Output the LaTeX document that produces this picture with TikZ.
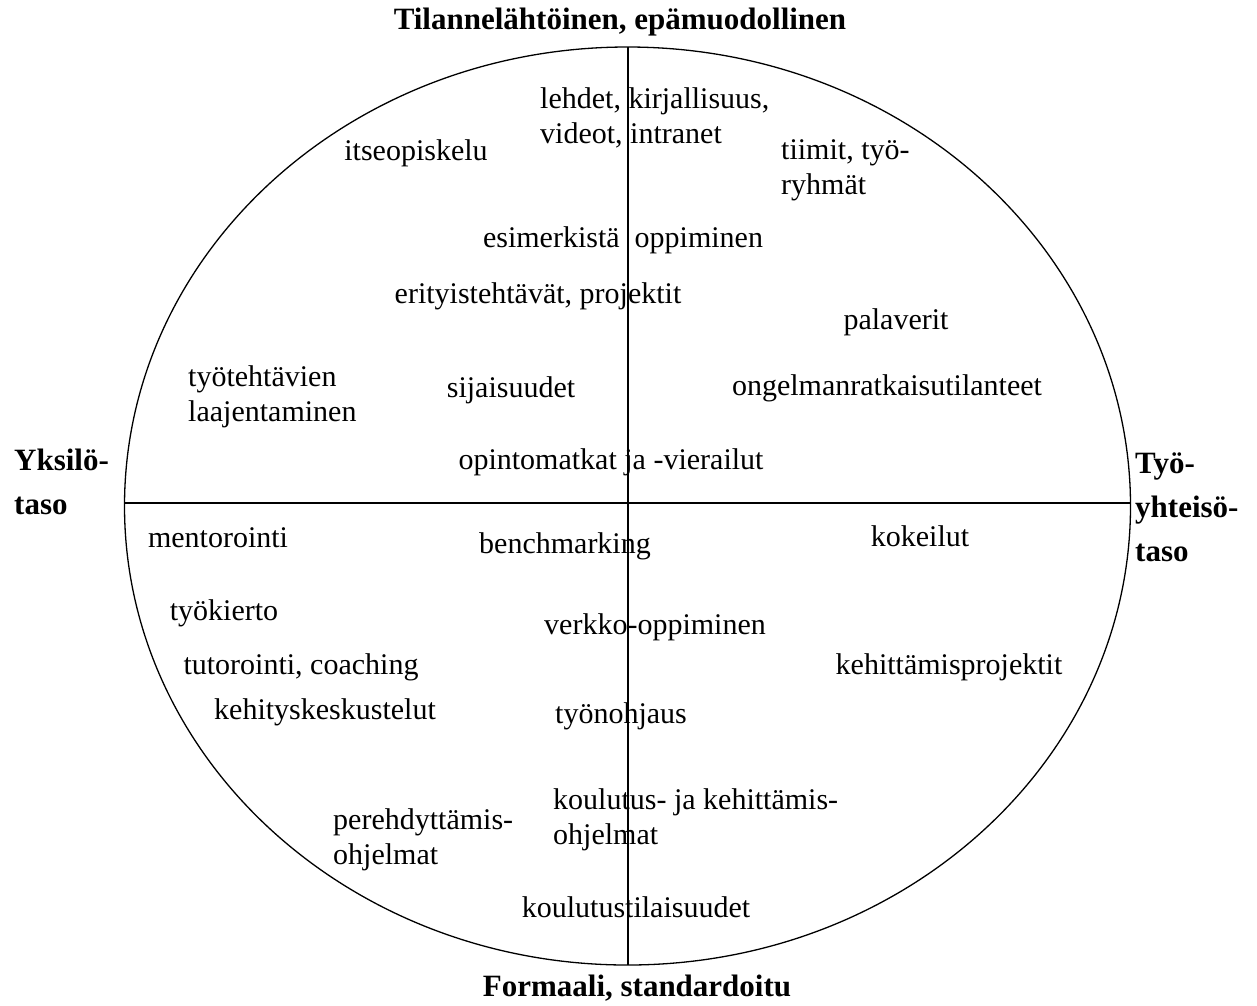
\documentclass[tikz,border=0pt]{standalone}
\usepackage{fontspec}
\setmainfont{Liberation Serif}
\begin{document}
\begin{tikzpicture}[x=1pt,y=-1pt,
  lbl/.style={inner sep=0pt, font=\fontsize{30}{35}\selectfont, anchor=base},
  lblL/.style={lbl, anchor=base west, align=left},
  ttl/.style={inner sep=0pt, font=\fontsize{31}{44}\selectfont\bfseries, anchor=base},
  ttlL/.style={ttl, anchor=base west, align=left},
  axis/.style={line width=1.3pt, black}]
\useasboundingbox (0,0) rectangle (1257,1005);
\fill[white] (0,0) rectangle (1257,1005);
\coordinate (C) at (627.5,506);
\coordinate (L) at (124.5,503);
\coordinate (R) at (1130.5,503);
\coordinate (T) at (628,47);
\coordinate (B) at (628,965);
\draw[axis] (C) ellipse [x radius=503pt, y radius=459pt];
\draw[axis] (L) -- (R);
\draw[axis] (T) -- (B);
% titles
\node[ttl] (top) at (620,29) {Tilannelähtöinen, epämuodollinen};
\node[ttl] (bot) at (637,996) {Formaali, standardoitu};
\node[ttlL] (left) at (14,514) {Yksilö-\\taso};
\node[ttlL] (right) at (1135,561) {Työ-\\yhteisö-\\taso};
% labels
\node[lblL] (n1) at (540,143) {lehdet, kirjallisuus,\\videot, intranet};
\node[lbl] (n2) at (416,160) {itseopiskelu};
\node[lblL] (n3) at (781,194) {tiimit, työ-\\ryhmät};
\node[lbl] (n4) at (623,247) {esimerkistä\enspace oppiminen};
\node[lbl] (n5) at (538,303) {erityistehtävät, projektit};
\node[lbl] (n6) at (896,329) {palaverit};
\node[lblL] (n7) at (188,421) {työtehtävien\\laajentaminen};
\node[lbl] (n8) at (511,397) {sijaisuudet};
\node[lbl] (n9) at (887,395) {ongelmanratkaisutilanteet};
\node[lbl] (n10) at (611,469) {opintomatkat ja -vierailut};
\node[lbl] (n11) at (218,547) {mentorointi};
\node[lbl] (n12) at (565,553) {benchmarking};
\node[lbl] (n13) at (920,546) {kokeilut};
\node[lbl] (n14) at (224,620) {työkierto};
\node[lbl] (n15) at (655,634) {verkko-oppiminen};
\node[lbl] (n16) at (301,674) {tutorointi, coaching};
\node[lbl] (n17) at (949,674) {kehittämisprojektit};
\node[lbl] (n18) at (325,719) {kehityskeskustelut};
\node[lbl] (n19) at (621,723) {työnohjaus};
\node[lblL] (n20) at (553,844) {koulutus- ja kehittämis-\\ohjelmat};
\node[lblL] (n21) at (333,864) {perehdyttämis-\\ohjelmat};
\node[lbl] (n22) at (636,917) {koulutustilaisuudet};
\end{tikzpicture}
\end{document}
